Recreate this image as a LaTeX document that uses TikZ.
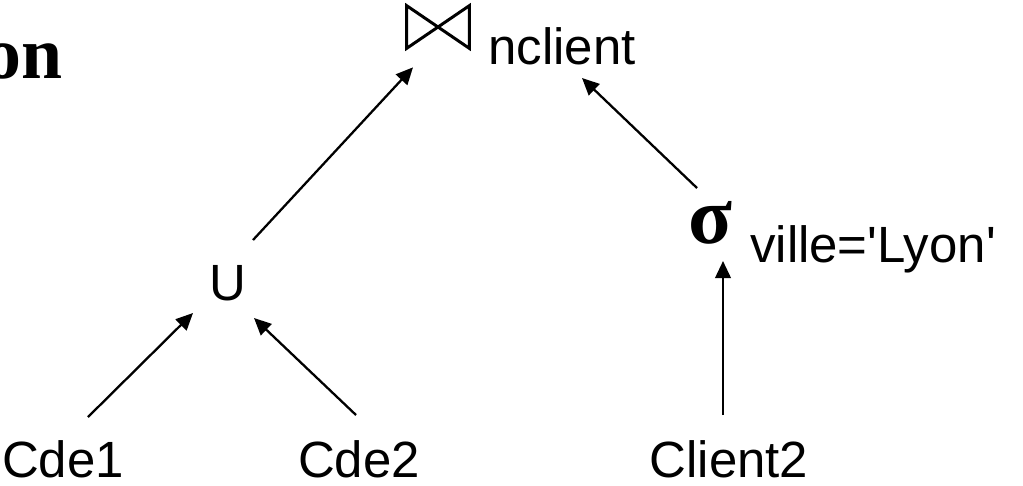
\documentclass[tikz,border=0pt]{standalone}
\usepackage{fontspec}
\setmainfont{Liberation Serif}
\setsansfont{Liberation Sans}[Ligatures=TeXOff]
\usetikzlibrary{arrows.meta}
\tikzset{
  lbl/.style={font=\sffamily\fontsize{29}{34}\selectfont, inner sep=0pt, anchor=base},
  arr/.style={line width=1.3pt, -{Triangle[length=0.34cm,width=0.31cm]}},
}
\begin{document}
\begin{tikzpicture}[x=0.02cm, y=-0.02cm]
	\useasboundingbox (0,0) rectangle (1023,485);
	\node[font=\bfseries\fontsize{42}{48}\selectfont, inner sep=0pt, anchor=base east] (title) at (63,78) {on};

	\node[inner sep=0pt, minimum width=1.24cm, minimum height=0.84cm] (join) at (438,27) {}; %join
	\draw[line width=1.7pt] (join.north west) -- (join.south east) -- (join.north east) -- (join.south west) -- cycle;
	\node[lbl] (nclient) at (562,64) {nclient};

	\node[lbl] (union) at (228,300) {U}; %union
	\node[font=\bfseries\fontsize{46}{50}\selectfont, inner sep=0pt, anchor=base] (sigma) at (710,243) {σ}; %selection
	\node[lbl] (ville) at (873,262) {ville='Lyon'};

	\node[lbl] (cde1) at (63,477) {Cde1};
	\node[lbl] (cde2) at (359,477) {Cde2};
	\node[lbl] (client2) at (729,477) {Client2};

	\draw[arr] ([shift={(25,-60)}]cde1.base) -- ([shift={(-35,13)}]union.base);
	\draw[arr] ([shift={(-3,-62)}]cde2.base) -- ([shift={(26,18)}]union.base);
	\draw[arr] ([shift={(-6,-62)}]client2.base) -- ([shift={(13,18)}]sigma.base);
	\draw[arr] ([shift={(25,-60)}]union.base) -- ([shift={(-25,19)}]join.south);
	\draw[arr] ([shift={(-13,-55)}]sigma.base) -- ([shift={(20,14)}]nclient.base);
\end{tikzpicture}
\end{document}
